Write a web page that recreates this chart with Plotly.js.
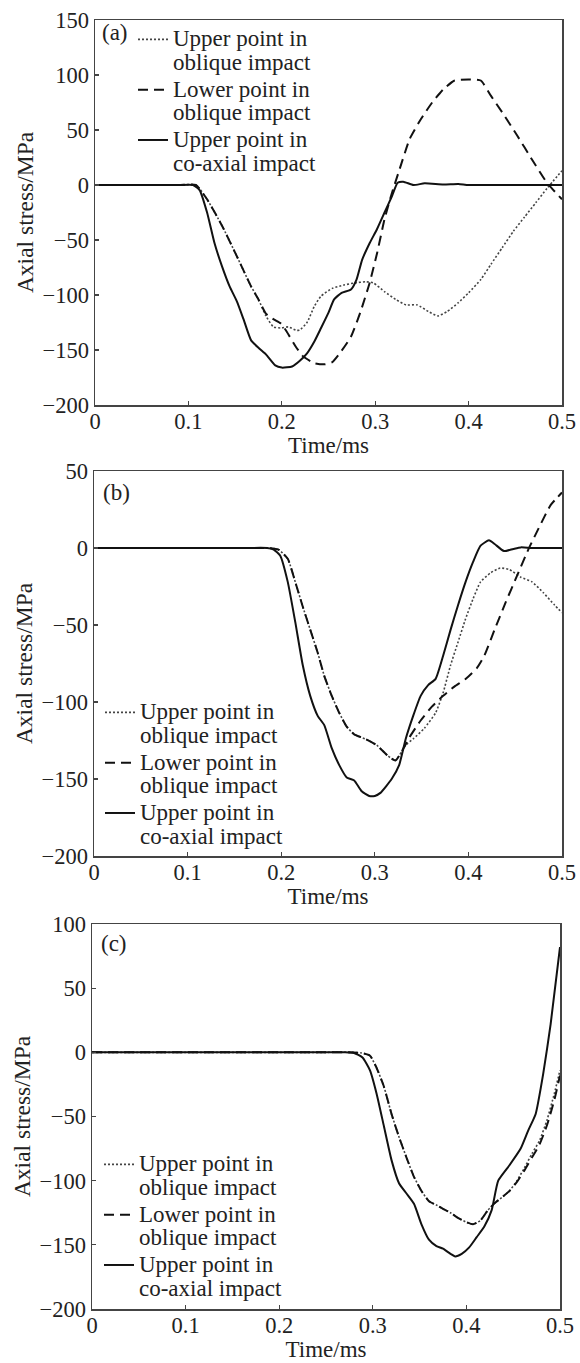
<!DOCTYPE html>
<html>
<head>
<meta charset="utf-8">
<script src="https://cdn.plot.ly/plotly-3.0.1.min.js"></script>
<style>html,body{margin:0;padding:0;background:#fff;}#chart{width:580px;height:1363px;}</style>
</head>
<body>
<div id="chart"></div>
<script>
// ---------- Data ----------
var seriesNames = ["Upper point in<br>oblique impact", "Lower point in<br>oblique impact", "Upper point in<br>co-axial impact"];
var panelLabels = ["(a)", "(b)", "(c)"];
var xTickVals = [0, 0.1, 0.2, 0.3, 0.4, 0.5];
var xTickText = ["0", "0.1", "0.2", "0.3", "0.4", "0.5"];

// Panel (a)
var aT_up = [0, 0.05, 0.09, 0.108, 0.12, 0.136, 0.152, 0.167, 0.175, 0.183, 0.191, 0.199, 0.207, 0.215, 0.219, 0.227, 0.235, 0.242, 0.254, 0.266, 0.278, 0.29, 0.298, 0.31, 0.322, 0.333, 0.345, 0.357, 0.367, 0.377, 0.389, 0.4, 0.413, 0.424, 0.436, 0.448, 0.46, 0.472, 0.484, 0.5];
var aV_up = [0, 0, 0, 0, -13, -37, -65, -92, -104, -119, -129, -130, -129, -132, -132, -125, -110, -101, -94, -91, -89, -88, -89, -97, -104, -109, -109, -115, -119, -115, -107, -98, -86, -72, -57, -42, -29, -16, -3, 13];
var aT_lo = [0, 0.05, 0.09, 0.108, 0.12, 0.136, 0.152, 0.167, 0.175, 0.183, 0.191, 0.199, 0.205, 0.215, 0.223, 0.235, 0.246, 0.254, 0.262, 0.274, 0.284, 0.294, 0.302, 0.31, 0.318, 0.326, 0.337, 0.349, 0.361, 0.373, 0.385, 0.4, 0.413, 0.424, 0.436, 0.452, 0.468, 0.484, 0.5];
var aV_lo = [0, 0, 0, 0, -13, -37, -65, -92, -104, -117, -122, -126, -133, -147, -156, -162, -163, -161, -153, -138, -116, -89, -62, -31, -7, 14, 42, 60, 75, 87, 95, 96, 95, 81, 66, 45, 23, 2, -13];
var aT_co = [0, 0.05, 0.09, 0.105, 0.112, 0.12, 0.128, 0.136, 0.144, 0.152, 0.159, 0.167, 0.175, 0.183, 0.193, 0.2, 0.211, 0.219, 0.227, 0.235, 0.242, 0.25, 0.256, 0.264, 0.274, 0.28, 0.286, 0.294, 0.302, 0.31, 0.318, 0.324, 0.33, 0.341, 0.353, 0.373, 0.389, 0.4, 0.45, 0.5];
var aV_co = [0, 0, 0, 0, -4.6, -25, -53, -74, -92, -106, -122, -141, -148, -154, -164, -166, -165, -160, -153, -142, -130, -116, -104, -98, -95, -86, -68, -53, -40, -25, -10, 2, 3, 0, 1.5, 0.5, 1, 0, 0, 0];

// Panel (b)
var bT_up = [0, 0.1, 0.16, 0.185, 0.197, 0.207, 0.215, 0.223, 0.231, 0.239, 0.246, 0.254, 0.262, 0.27, 0.278, 0.29, 0.302, 0.314, 0.322, 0.333, 0.341, 0.353, 0.365, 0.373, 0.381, 0.389, 0.397, 0.405, 0.413, 0.424, 0.434, 0.444, 0.456, 0.468, 0.48, 0.492, 0.5];
var bV_up = [0, 0, 0, 0, -1, -7, -22, -38, -53, -68, -83, -96, -107, -116, -121, -124, -128, -135, -138, -128, -124, -117, -107, -94, -76, -61, -46, -33, -22, -16, -13, -14, -19, -22, -29, -37, -42];
var bT_lo = [0, 0.1, 0.16, 0.185, 0.197, 0.207, 0.215, 0.223, 0.231, 0.239, 0.246, 0.254, 0.262, 0.27, 0.278, 0.29, 0.302, 0.314, 0.322, 0.328, 0.337, 0.349, 0.361, 0.373, 0.385, 0.397, 0.409, 0.417, 0.428, 0.44, 0.452, 0.464, 0.476, 0.488, 0.5];
var bV_lo = [0, 0, 0, 0, -1, -7, -22, -38, -53, -68, -83, -96, -107, -116, -121, -124, -128, -135, -138, -133, -123, -112, -103, -96, -90, -85, -78, -70, -53, -35, -18, -1, 14, 28, 36];
var bT_co = [0, 0.1, 0.16, 0.185, 0.192, 0.199, 0.207, 0.215, 0.223, 0.231, 0.239, 0.246, 0.254, 0.262, 0.27, 0.278, 0.286, 0.294, 0.3, 0.306, 0.318, 0.326, 0.333, 0.341, 0.349, 0.357, 0.365, 0.373, 0.381, 0.389, 0.397, 0.405, 0.413, 0.422, 0.428, 0.438, 0.448, 0.456, 0.468, 0.5];
var bV_co = [0, 0, 0, 0, -1, -5, -22, -48, -76, -96, -109, -115, -130, -141, -149, -151, -158, -161, -161, -159, -150, -141, -124, -109, -96, -89, -85, -70, -53, -37, -22, -9, 1.5, 5, 2.6, -2, -0.6, 0.4, 0, 0];

// Panel (c)
var cT_up = [0, 0.1, 0.2, 0.25, 0.275, 0.288, 0.297, 0.304, 0.312, 0.32, 0.328, 0.336, 0.344, 0.352, 0.36, 0.368, 0.375, 0.383, 0.391, 0.399, 0.407, 0.415, 0.423, 0.431, 0.438, 0.446, 0.454, 0.462, 0.47, 0.478, 0.486, 0.494, 0.5];
var cV_up = [0, 0, 0, 0, 0, -0.5, -2.6, -12, -27, -48, -66, -82, -97, -108, -116, -119, -122, -125, -129, -132, -134, -131, -123, -117, -113, -108, -100, -90, -79, -69, -53, -32, -14];
var cT_lo = [0, 0.1, 0.2, 0.25, 0.275, 0.288, 0.297, 0.304, 0.312, 0.32, 0.328, 0.336, 0.344, 0.352, 0.36, 0.368, 0.375, 0.383, 0.391, 0.399, 0.407, 0.415, 0.423, 0.431, 0.438, 0.446, 0.454, 0.462, 0.47, 0.478, 0.486, 0.494, 0.5];
var cV_lo = [0, 0, 0, 0, 0, -0.5, -2.6, -12, -27, -48, -66, -82, -97, -108, -116, -119, -122, -125, -129, -132, -134, -131, -123, -117, -113, -108, -101, -92, -82, -72, -57, -37, -18];
var cT_co = [0, 0.1, 0.2, 0.25, 0.27, 0.28, 0.289, 0.297, 0.304, 0.312, 0.32, 0.328, 0.336, 0.344, 0.352, 0.36, 0.368, 0.375, 0.383, 0.388, 0.395, 0.403, 0.411, 0.419, 0.427, 0.434, 0.446, 0.458, 0.466, 0.474, 0.482, 0.49, 0.5];
var cV_co = [0, 0, 0, 0, 0, -0.5, -4, -14, -32, -58, -84, -102, -110, -118, -134, -146, -151, -153, -157, -159, -157, -152, -144, -136, -123, -100, -88, -75, -61, -48, -17, 22, 82];

var yRanges = [[-200, 150], [-200, 50], [-200, 100]];

// ---------- Styles ----------
var FONT = "'Liberation Serif', 'Times New Roman', Times, serif";
var styles = [
  {color: "#444", width: 1.6, dash: "2px,2px"},
  {color: "#111", width: 2, dash: "10px,6px"},
  {color: "#111", width: 2, dash: "solid"}
];
var panels = [
  [[aT_up, aV_up], [aT_lo, aV_lo], [aT_co, aV_co]],
  [[bT_up, bV_up], [bT_lo, bV_lo], [bT_co, bV_co]],
  [[cT_up, cV_up], [cT_lo, cV_lo], [cT_co, cV_co]]
];

var W = 580, H = 1363;
// pixel boxes [left, right, top, bottom]
var boxes = [[95, 562, 20, 405], [94, 562, 471, 856], [92, 560, 924, 1309]];
var legendPos = [[133, 21], [100, 694], [99, 1146]];
var labelPos = [[100, 33], [101, 493], [99, 943]];

var traces = [];
var layout = {
  width: W, height: H,
  margin: {l: 0, r: 0, t: 0, b: 0},
  paper_bgcolor: "#fff", plot_bgcolor: "#fff",
  font: {family: FONT, size: 22, color: "#222"},
  showlegend: true,
  annotations: []
};

var SPAN = '<span style="font-size:23px">';
panels.forEach(function (p, i) {
  var sfx = i === 0 ? "" : String(i + 1);
  var legName = "legend" + sfx;
  p.forEach(function (s, j) {
    traces.push({
      type: "scatter", mode: "lines",
      x: s[0], y: s[1],
      xaxis: "x" + sfx, yaxis: "y" + sfx,
      name: SPAN + seriesNames[j].replace("<br>", "</span><br>" + SPAN) + "</span>",
      legend: legName,
      line: {color: styles[j].color, width: styles[j].width, dash: styles[j].dash, shape: "spline", smoothing: 0.5},
      hoverinfo: "skip"
    });
  });
  var b = boxes[i];
  var axBase = {
    showline: true, mirror: true, linecolor: "#444", linewidth: 1.5,
    ticks: "inside", ticklen: 4, tickwidth: 1.2, tickcolor: "#444",
    showgrid: false, zeroline: false,
    tickfont: {family: FONT, size: 22.5, color: "#222"}
  };
  layout["xaxis" + sfx] = Object.assign({}, axBase, {
    domain: [b[0] / W, b[1] / W],
    range: [0, 0.5],
    tickvals: xTickVals, ticktext: xTickText,
    anchor: "y" + sfx,
    ticklabelstandoff: -5,
    title: {text: "Time/ms", font: {family: FONT, size: 23, color: "#222"}, standoff: 0}
  });
  layout["yaxis" + sfx] = Object.assign({}, axBase, {
    domain: [1 - b[3] / H, 1 - b[2] / H],
    range: yRanges[i],
    dtick: 50,
    anchor: "x" + sfx,
    ticklabelstandoff: 0,
    title: {text: "Axial stress/MPa", font: {family: FONT, size: 23.5, color: "#222"}, standoff: 2}
  });
  layout[legName] = {
    x: legendPos[i][0] / W, y: 1 - legendPos[i][1] / H,
    xanchor: "left", yanchor: "top",
    bgcolor: "rgba(0,0,0,0)", borderwidth: 0,
    font: {family: FONT, size: 18.2, color: "#222"},
    valign: "top", tracegroupgap: 0
  };
  layout.annotations.push({
    xref: "paper", yref: "paper",
    x: labelPos[i][0] / W, y: 1 - labelPos[i][1] / H,
    xanchor: "left", yanchor: "middle",
    text: panelLabels[i], showarrow: false,
    font: {family: FONT, size: 23, color: "#222"}
  });
});

Plotly.newPlot("chart", traces, layout, {staticPlot: true});
</script>
</body>
</html>
